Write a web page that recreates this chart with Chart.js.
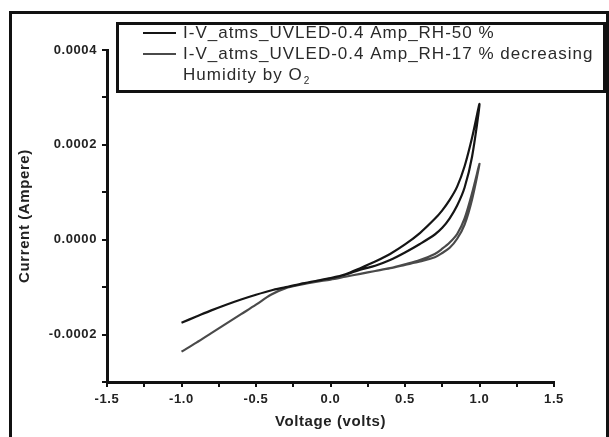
<!DOCTYPE html>
<html>
<head>
<meta charset="utf-8">
<script src="https://cdn.jsdelivr.net/npm/chart.js@4"></script>
<style>
  html, body { margin: 0; padding: 0; background: #fff; }
  #wrap { position: relative; width: 609px; height: 437px; overflow: hidden; }
  #frame { position: absolute; left: 9px; top: 11px; width: 594px; height: 450px; border: 3px solid #111; pointer-events: none; }
</style>
</head>
<body>
<div id="wrap">
  <canvas id="ivChart" width="609" height="437"></canvas>
  <div id="frame"></div>
</div>
<script>
// sweep voltages (V)
const voltage = [-1.0, -0.9, -0.8, -0.7, -0.6, -0.5, -0.4, -0.3, -0.2, -0.1, 0.0, 0.1,
                 0.2, 0.3, 0.4, 0.5, 0.6, 0.7, 0.75, 0.8, 0.85, 0.9, 0.95, 1.0];

// currents in units of 1e-4 A, forward sweep (-1 -> 1) and return sweep (1 -> -1, listed by voltage)
const rh50Forward = [-1.75, -1.62, -1.49, -1.37, -1.26, -1.16, -1.07, -1.00, -0.93, -0.87, -0.81, -0.74,
                     -0.63, -0.55, -0.43, -0.27, -0.09, 0.11, 0.25, 0.45, 0.72, 1.10, 1.75, 2.86];
const rh50Return  = [-1.75, -1.62, -1.49, -1.37, -1.26, -1.16, -1.07, -1.00, -0.93, -0.87, -0.81, -0.73,
                     -0.60, -0.46, -0.30, -0.10, 0.14, 0.44, 0.62, 0.84, 1.12, 1.55, 2.15, 2.86];
const rh17Forward = [-2.36, -2.17, -1.97, -1.77, -1.57, -1.37, -1.16, -1.02, -0.95, -0.89, -0.84, -0.78,
                     -0.72, -0.66, -0.60, -0.53, -0.46, -0.37, -0.28, -0.17, 0.02, 0.32, 0.85, 1.60];
const rh17Return  = [-2.36, -2.17, -1.97, -1.77, -1.57, -1.37, -1.16, -1.02, -0.95, -0.89, -0.84, -0.78,
                     -0.72, -0.66, -0.60, -0.52, -0.43, -0.30, -0.19, -0.06, 0.12, 0.45, 0.98, 1.60];

const seriesLabels = [
  "I-V_atms_UVLED-0.4 Amp_RH-50 %",
  "I-V_atms_UVLED-0.4 Amp_RH-17 % decreasing"
];
const yTicks = [-0.0003, -0.0002, -0.0001, 0.0, 0.0001, 0.0002, 0.0003, 0.0004];
const xTicks = [-1.5, -1.0, -0.5, 0.0, 0.5, 1.0, 1.5];

function loop(fwd, ret) {
  const pts = voltage.map((v, i) => ({ x: v, y: fwd[i] * 1e-4 }));
  for (let i = voltage.length - 2; i >= 0; i--) {
    pts.push({ x: voltage[i], y: ret[i] * 1e-4 });
  }
  return pts;
}

const FONT = "'Liberation Sans', Arial, sans-serif";

// slightly spaced text, like the scanned original
const spacing = {
  id: "spacing",
  beforeDraw(chart) { chart.ctx.letterSpacing = "0.6px"; }
};

// boxed legend drawn over the top of the plot
const boxLegend = {
  id: "boxLegend",
  afterDraw(chart) {
    const ctx = chart.ctx;
    const ds = chart.data.datasets;
    ctx.save();
    ctx.fillStyle = "#fff";
    ctx.fillRect(117, 23, 488, 69);
    ctx.strokeStyle = "#111";
    ctx.lineWidth = 3;
    ctx.strokeRect(117.5, 23.5, 487, 68);

    const rows = [33, 54];
    ctx.font = "17px " + FONT;
    ctx.letterSpacing = "1px";
    ctx.textBaseline = "middle";
    ds.forEach((d, i) => {
      ctx.strokeStyle = d.borderColor;
      ctx.lineWidth = 2;
      ctx.beginPath();
      ctx.moveTo(143, rows[i]);
      ctx.lineTo(176, rows[i]);
      ctx.stroke();
      ctx.fillStyle = "#2a2a2a";
      ctx.fillText(d.label, 183, rows[i]);
    });
    // continuation of second label with subscript
    ctx.fillText("Humidity by O", 183, 75);
    const w = ctx.measureText("Humidity by O").width;
    ctx.font = "10px " + FONT;
    ctx.fillText("2", 183 + w + 1, 81);
    ctx.restore();
  }
};

new Chart(document.getElementById("ivChart"), {
  type: "scatter",
  data: {
    datasets: [
      {
        label: seriesLabels[0],
        data: loop(rh50Forward, rh50Return),
        showLine: true,
        borderColor: "#151515",
        borderWidth: 2.2,
        pointRadius: 0,
        tension: 0.3
      },
      {
        label: seriesLabels[1],
        data: loop(rh17Forward, rh17Return),
        showLine: true,
        borderColor: "#4a4a4a",
        borderWidth: 2.2,
        pointRadius: 0,
        tension: 0.3
      }
    ]
  },
  options: {
    responsive: false,
    animation: false,
    devicePixelRatio: 1,
    layout: { padding: { top: 50, right: 55, left: 0, bottom: 0 } },
    plugins: {
      legend: { display: false },
      tooltip: { enabled: false }
    },
    scales: {
      x: {
        type: "linear",
        min: -1.5,
        max: 1.5,
        afterFit: s => { s.height = 55; },
        afterBuildTicks: s => {
          const t = [];
          xTicks.forEach((v, i) => {
            t.push({ value: v });
            if (i < xTicks.length - 1) t.push({ value: (v + xTicks[i + 1]) / 2 });
          });
          s.ticks = t;
        },
        ticks: {
          autoSkip: false,
          maxRotation: 0,
          padding: 5,
          color: "#222",
          font: { family: FONT, size: 13, weight: "bold" },
          callback: v => xTicks.some(t => Math.abs(t - v) < 1e-9) ? v.toFixed(1) : ""
        },
        grid: { drawOnChartArea: false, drawTicks: true, tickLength: 5, color: "#111", lineWidth: 2 },
        border: { display: true, width: 3, color: "#111" },
        title: {
          display: true,
          text: "Voltage (volts)",
          color: "#222",
          font: { family: FONT, size: 15, weight: "bold" },
          padding: { top: 0, bottom: 6 }
        }
      },
      y: {
        type: "linear",
        min: -0.0003,
        max: 0.0004,
        afterFit: s => { s.width = 107; },
        afterBuildTicks: s => { s.ticks = yTicks.map(v => ({ value: v })); },
        ticks: {
          autoSkip: false,
          padding: 5,
          color: "#222",
          font: { family: FONT, size: 13, weight: "bold" },
          callback: v => Math.abs(Math.round(v * 1e4)) % 2 === 0 ? v.toFixed(4) : ""
        },
        grid: { drawOnChartArea: false, drawTicks: true, tickLength: 5, color: "#111", lineWidth: 2 },
        border: { display: true, width: 3, color: "#111" },
        title: {
          display: true,
          text: "Current (Ampere)",
          color: "#222",
          font: { family: FONT, size: 15, weight: "bold" },
          padding: { top: 16, bottom: 0 }
        }
      }
    }
  },
  plugins: [spacing, boxLegend]
});
</script>
</body>
</html>
